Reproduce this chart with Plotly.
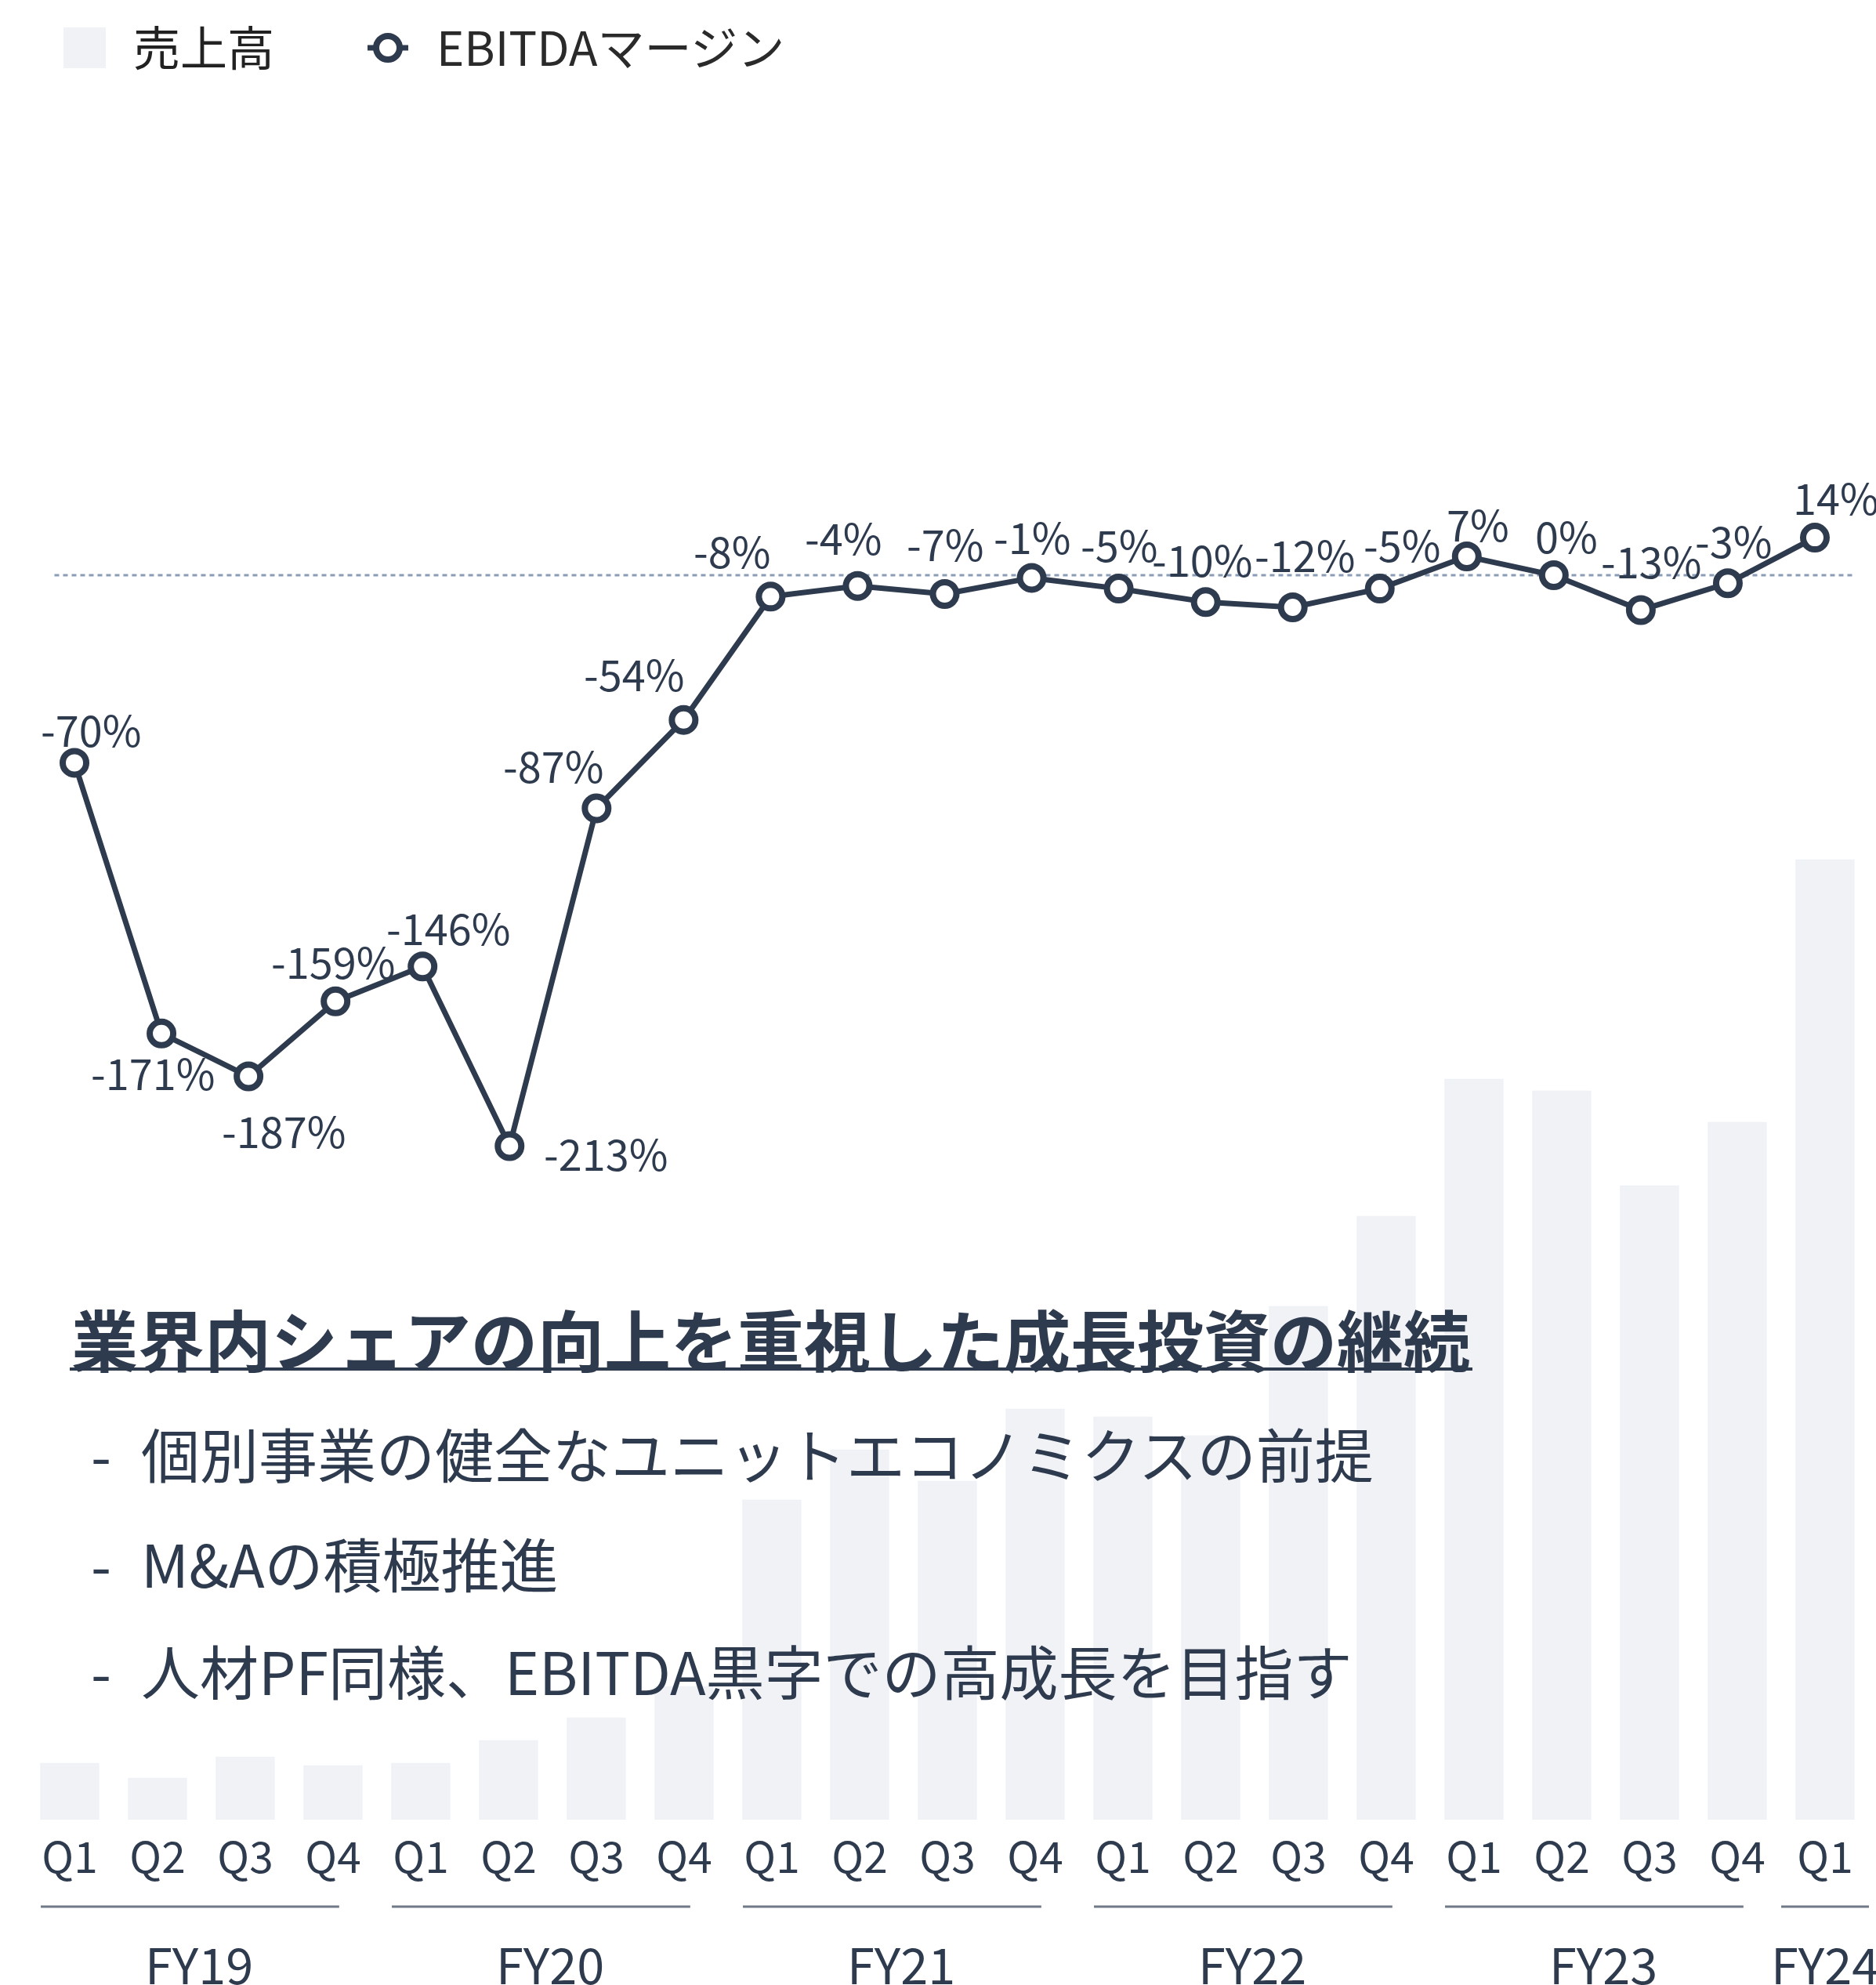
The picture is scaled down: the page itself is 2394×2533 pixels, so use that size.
import plotly.graph_objects as go

# ---- data ----
quarters = ["Q1", "Q2", "Q3", "Q4",
            "Q1", "Q2", "Q3", "Q4",
            "Q1", "Q2", "Q3", "Q4",
            "Q1", "Q2", "Q3", "Q4",
            "Q1", "Q2", "Q3", "Q4",
            "Q1"]
fiscal_years = ["FY19"] * 4 + ["FY20"] * 4 + ["FY21"] * 4 + ["FY22"] * 4 + ["FY23"] * 4 + ["FY24"]
sales = [7.2, 5.3, 8.0, 6.9, 7.2, 10.1, 13.0, 17.0, 40.8, 47.2, 43.2,
         52.4, 51.4, 49.0, 65.5, 77.0, 94.5, 93.0, 80.9, 89.0, 122.5]
ebitda_margin = [-70, -171, -187, -159, -146, -213, -87, -54, -8, -4, -7,
                 -1, -5, -10, -12, -5, 7, 0, -13, -3, 14]

title_text = "業界内シェアの向上を重視した成長投資の継続"
bullets = ["個別事業の健全なユニットエコノミクスの前提",
           "M&Aの積極推進",
           "人材PF同様、EBITDA黒字での高成長を目指す"]
legend_names = ["売上高", "EBITDAマージン"]

# ---- styling ----
W, H = 2394, 2533
L, R, T, B = 33, 9, 0, 211
plot_w = W - L - R
plot_h = H - T - B
FONT = "Noto Sans CJK JP"
DARK = "#2e3b4e"
BAR = "#f1f2f6"

# label offsets (px, right / down) for each margin label
label_dx = [21, -11, 45, -3, 33, 123, -55, -63, -49, -18, 0, 0, 0, -5, 15, 28, 14, 16, 13, 7, 27]
label_dy = [-39, 54, 73, -47, -46, 13, -51, -55, -55, -58, -60, -49, -53, -51, -64, -53, -38, -47, -59, -51, -48]


def px_x(x):
    return (x - L) / plot_w


def px_y(y):
    return (H - B - y) / plot_h


xs = list(range(len(quarters)))
zero_px = 734        # pixel row of 0 %
px_per_pct = 3.42

fig = go.Figure()
fig.add_trace(go.Bar(x=xs, y=sales, marker_color=BAR, width=0.665,
                     xaxis="x", yaxis="y", showlegend=False, hoverinfo="skip"))
fig.add_trace(go.Scatter(x=xs, y=ebitda_margin, mode="lines+markers",
                         line=dict(color=DARK, width=7),
                         marker=dict(size=30, color="white", line=dict(color=DARK, width=8)),
                         xaxis="x2", yaxis="y2", showlegend=False, cliponaxis=False))

# zero reference line
fig.add_shape(type="line", xref="x2", yref="y2", x0=-0.23, x1=20.43, y0=0, y1=0,
              line=dict(color="#8a9cb6", width=3, dash="6px,5px"), layer="below")

annotations = []
for i, v in enumerate(ebitda_margin):
    annotations.append(dict(x=i, y=v, xref="x2", yref="y2", text=f"{v}%", showarrow=False,
                            xshift=label_dx[i], yshift=-label_dy[i] + 5,
                            font=dict(family=FONT, size=54, color=DARK)))

# fiscal-year brackets and labels
groups = []
for i, fy in enumerate(fiscal_years):
    if not groups or groups[-1][0] != fy:
        groups.append([fy, i, i])
    else:
        groups[-1][2] = i
for fy, first, last in groups:
    if last - first == 3:
        x0, x1, xc = first - 0.33, first + 3.07, first + 1.47
    else:
        x0, x1, xc = first - 0.5, 20.6, first
    fig.add_shape(type="line", xref="x", yref="paper", x0=x0, x1=x1,
                  y0=px_y(2433), y1=px_y(2433), line=dict(color="#6f7987", width=3))
    annotations.append(dict(x=xc, y=px_y(2504), xref="x", yref="paper", text=fy,
                            showarrow=False, yanchor="middle",
                            font=dict(family=FONT, size=63, color=DARK)))

# headline and bullets
annotations.append(dict(x=px_x(89), y=px_y(1706), xref="paper", yref="paper",
                        text=f"<b>{title_text}</b>", showarrow=False,
                        xanchor="left", yanchor="middle",
                        font=dict(family=FONT, size=85, color=DARK)))
fig.add_shape(type="line", xref="paper", yref="paper", x0=px_x(89), x1=px_x(1879),
              y0=px_y(1747), y1=px_y(1747), line=dict(color=DARK, width=4))
for text, yy in zip(bullets, [1853, 1993, 2130]):
    annotations.append(dict(x=px_x(114), y=px_y(yy), xref="paper", yref="paper", text="-",
                            showarrow=False, xanchor="left", yanchor="middle",
                            font=dict(family=FONT, size=75, color=DARK)))
    annotations.append(dict(x=px_x(178), y=px_y(yy), xref="paper", yref="paper", text=text,
                            showarrow=False, xanchor="left", yanchor="middle",
                            font=dict(family=FONT, size=75, color=DARK)))

# legend (drawn by hand so the symbols match the reference size)
fig.add_shape(type="rect", xref="paper", yref="paper", x0=px_x(81), x1=px_x(135),
              y0=px_y(87), y1=px_y(35), fillcolor=BAR, line=dict(width=0))
annotations.append(dict(x=px_x(168), y=px_y(58), xref="paper", yref="paper", text=legend_names[0],
                        showarrow=False, xanchor="left", yanchor="middle",
                        font=dict(family=FONT, size=60, color="#222222")))
fig.add_shape(type="line", xref="paper", yref="paper", x0=px_x(469), x1=px_x(521),
              y0=px_y(61), y1=px_y(61), line=dict(color=DARK, width=7))
fig.add_shape(type="circle", xref="paper", yref="paper", x0=px_x(480), x1=px_x(510),
              y0=px_y(76), y1=px_y(46), fillcolor="white", line=dict(color=DARK, width=8))
annotations.append(dict(x=px_x(555), y=px_y(58), xref="paper", yref="paper", text=legend_names[1],
                        showarrow=False, xanchor="left", yanchor="middle",
                        font=dict(family=FONT, size=60, color="#2a2a2a")))

fig.update_layout(
    width=W, height=H,
    margin=dict(l=L, r=R, t=T, b=B),
    paper_bgcolor="white",
    plot_bgcolor="rgba(0,0,0,0)",
    font=dict(family=FONT, color=DARK),
    annotations=annotations,
    hovermode=False,
    xaxis=dict(range=[-0.5, 20.5], tickvals=xs, ticktext=quarters,
               tickfont=dict(family=FONT, size=55, color=DARK),
               ticklabelstandoff=12,
               showgrid=False, zeroline=False, showline=False, ticks="",
               fixedrange=True),
    yaxis=dict(range=[0, plot_h / 10], visible=False, fixedrange=True),
    xaxis2=dict(domain=[px_x(39.5), px_x(2371.5)], range=[-0.5, 20.5],
                anchor="y2", visible=False),
    yaxis2=dict(domain=[0, 1], anchor="x2",
                range=[-(plot_h - zero_px) / px_per_pct, zero_px / px_per_pct],
                visible=False),
)

fig.write_html("out.html", config={"displayModeBar": False},
               post_script="document.body.style.margin='0';document.body.style.overflow='hidden';")
